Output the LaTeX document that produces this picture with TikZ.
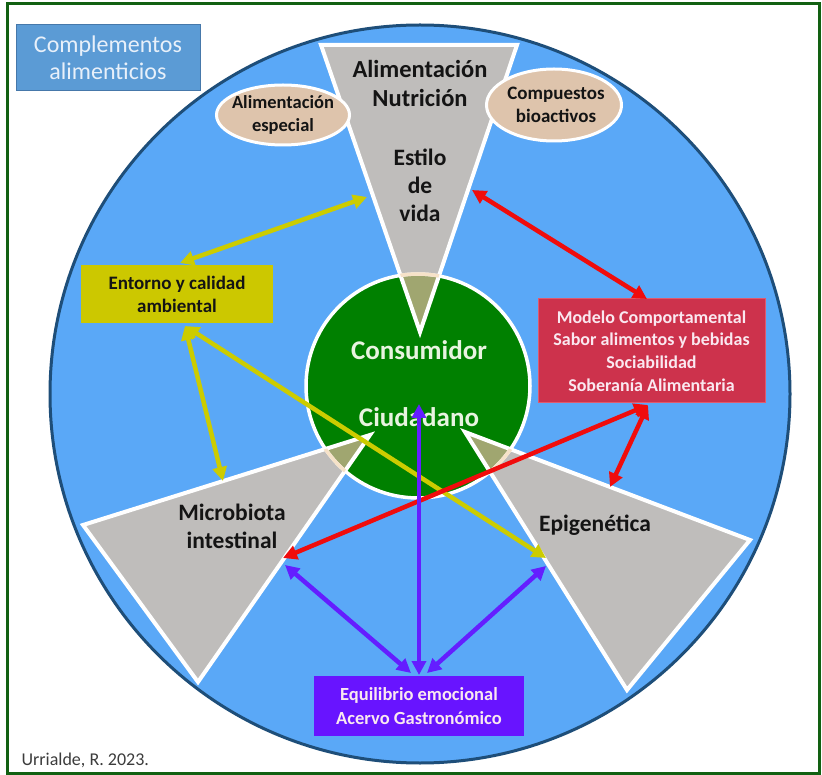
\documentclass[tikz,border=0pt]{standalone}
\usepackage{fontspec}
\setmainfont{Carlito}
\usetikzlibrary{arrows.meta,shapes.geometric}

\definecolor{sky}{RGB}{90,168,247}
\definecolor{rim}{RGB}{30,78,121}
\definecolor{framegreen}{RGB}{18,96,18}
\definecolor{core}{RGB}{0,128,0}
\definecolor{corelabel}{RGB}{232,244,224}
\definecolor{wedge}{RGB}{191,189,187}
\definecolor{wedgecore}{RGB}{160,166,112}
\definecolor{peach}{RGB}{246,226,200}
\definecolor{tan}{RGB}{222,196,172}
\definecolor{steel}{RGB}{91,155,213}
\definecolor{steeledge}{RGB}{70,120,170}
\definecolor{steeltext}{RGB}{232,240,250}
\definecolor{mustard}{RGB}{204,200,0}
\definecolor{crimson}{RGB}{205,50,76}
\definecolor{crimsonedge}{RGB}{225,90,110}
\definecolor{violetbox}{RGB}{104,20,255}
\definecolor{paletext}{RGB}{250,232,240}
\definecolor{yellowline}{RGB}{204,204,0}
\definecolor{redline}{RGB}{240,12,12}
\definecolor{violetline}{RGB}{100,30,255}
\definecolor{darktext}{RGB}{20,20,20}
\definecolor{signature}{RGB}{60,60,60}

\tikzset{
  x=1pt, y=-1pt,
  tip/.tip={Triangle[length=14pt,width=14pt]},
  link/.style={line width=4.5pt, tip-tip},
  wedgeshape/.style={fill=wedge, draw=white, line width=4pt},
  ovalbox/.style={ellipse, fill=tan, draw=white, line width=3pt},
  ovaltext/.style={text=darktext, align=center, font=\bfseries\fontsize{18.5}{23}\selectfont},
  wedgetext/.style={text=darktext, align=center, font=\bfseries\fontsize{23.5}{28}\selectfont},
  boxtext/.style={align=center, font=\bfseries\fontsize{18}{22.7}\selectfont},
}

\begin{document}
\begin{tikzpicture}
\useasboundingbox (0,0) rectangle (822,775);
\fill[white] (0,0) rectangle (822,775);

% outer frame
\draw[framegreen, line width=3pt] (7,4) rectangle (819,773);

% big disc
\filldraw[fill=sky, draw=rim, line width=3pt] (420,394) ellipse [x radius=370, y radius=369];

% wedge corners
\coordinate (tA) at (321,45);  \coordinate (tB) at (517,45);  \coordinate (tC) at (420,332);
\coordinate (lA) at (370,435); \coordinate (lB) at (83,525);  \coordinate (lC) at (198,682);
\coordinate (rA) at (465,432); \coordinate (rB) at (750,540); \coordinate (rC) at (627,690);

\path[wedgeshape] (tA) -- (tB) -- (tC) -- cycle;
\path[wedgeshape] (lA) -- (lB) -- (lC) -- cycle;
\path[wedgeshape] (rA) -- (rB) -- (rC) -- cycle;

% central disc, wedge tips tinted where they overlap it
\fill[core] (418,386) circle [radius=112];
\begin{scope}
  \clip (418,386) circle [radius=112];
  \path[fill=wedgecore, draw=white, line width=4pt] (tA) -- (tB) -- (tC) -- cycle;
  \path[fill=wedgecore, draw=white, line width=4pt] (lA) -- (lB) -- (lC) -- cycle;
  \path[fill=wedgecore, draw=white, line width=4pt] (rA) -- (rB) -- (rC) -- cycle;
\end{scope}
\draw[white, line width=3.5pt] (418,386) circle [radius=112];
\begin{scope}
  \clip (tA) -- (tB) -- (tC) -- cycle (lA) -- (lB) -- (lC) -- cycle (rA) -- (rB) -- (rC) -- cycle;
  \draw[peach, line width=3.5pt] (418,386) circle [radius=112];
\end{scope}

% side ovals
\node[ovalbox, minimum width=133pt, minimum height=60pt, inner sep=0pt] (esp) at (283,115) {};
\node[ovaltext] (espt) at (283,115) {Alimentación\\especial};
\node[ovalbox, minimum width=135pt, minimum height=72pt, inner sep=0pt] (bio) at (554,105) {};
\node[ovaltext, font=\bfseries\fontsize{19}{23}\selectfont] (biot) at (556,105) {Compuestos\\bioactivos};

% wedge labels
\node[wedgetext, font=\bfseries\fontsize{24.5}{29}\selectfont] (ali) at (420,83) {Alimentación\\Nutrición};
\node[wedgetext] (est) at (420,185) {Estilo\\de\\vida};
\node[wedgetext] (mic) at (232,526) {Microbiota\\intestinal};
\node[wedgetext] (epi) at (595,525) {Epigenética};

% centre labels
\node[text=corelabel, font=\bfseries\fontsize{27}{30}\selectfont] (con) at (419,350) {Consumidor};
\node[text=corelabel, font=\bfseries\fontsize{27}{30}\selectfont] (ciu) at (419,417) {Ciudadano};

% boxes
\node[fill=steel, draw=steeledge, line width=1pt, minimum width=184pt, minimum height=66pt, inner sep=0pt,
      text=steeltext, align=center, font=\fontsize{24}{27}\selectfont] (comp) at (108,58) {Complementos\\alimenticios};
\node[fill=mustard, minimum width=192pt, minimum height=58pt, inner sep=0pt, boxtext, text=darktext,
      font=\bfseries\fontsize{19}{23}\selectfont] (ent) at (177,294) {Entorno y calidad\\ambiental};
\node[fill=crimson, draw=crimsonedge, line width=1pt, minimum width=227pt, minimum height=104pt, inner sep=0pt,
      boxtext, text=paletext] (mod) at (651.5,351) {Modelo Comportamental\\Sabor alimentos y bebidas\\Sociabilidad\\Soberanía Alimentaria};
\node[fill=violetbox, minimum width=210pt, minimum height=60pt, inner sep=0pt, boxtext, text=paletext,
      font=\bfseries\fontsize{18.5}{24}\selectfont] (equ) at (419,706) {Equilibrio emocional\\Acervo Gastronómico};

% connector ends on the wedge edges and box sides
\coordinate (estL) at (367,197);
\coordinate (estR) at (472,190);
\coordinate (entTop) at (180,263);
\coordinate (entBot) at (185,326);
\coordinate (micTop) at (223,481);
\coordinate (micRed) at (283,558);
\coordinate (micVio) at (285,565);
\coordinate (epiYel) at (546,558);
\coordinate (epiVio) at (546,566);
\coordinate (epiTop) at (610,487);
\coordinate (modTop) at (647,299);
\coordinate (modBot) at (648,405);
\coordinate (conIn) at (419,404);
\coordinate (equL) at (411,673);
\coordinate (equM) at (419,675);
\coordinate (equR) at (427,673);

% yellow links
\draw[link, yellowline] (entTop) -- (estL);
\draw[link, yellowline] (entBot) -- (micTop);
\draw[link, yellowline] (entBot) -- (epiYel);

% red links
\draw[link, redline] (estR) -- (modTop);
\draw[link, redline] (modBot) -- (micRed);
\draw[link, redline] (modBot) -- (epiTop);

% violet links
\draw[link, violetline] (equM) -- (conIn);
\draw[link, violetline] (equL) -- (micVio);
\draw[link, violetline] (equR) -- (epiVio);

% signature
\node[anchor=west, text=signature, font=\fontsize{18}{20}\selectfont] (sig) at (18,760) {Urrialde, R. 2023.};
\end{tikzpicture}
\end{document}
